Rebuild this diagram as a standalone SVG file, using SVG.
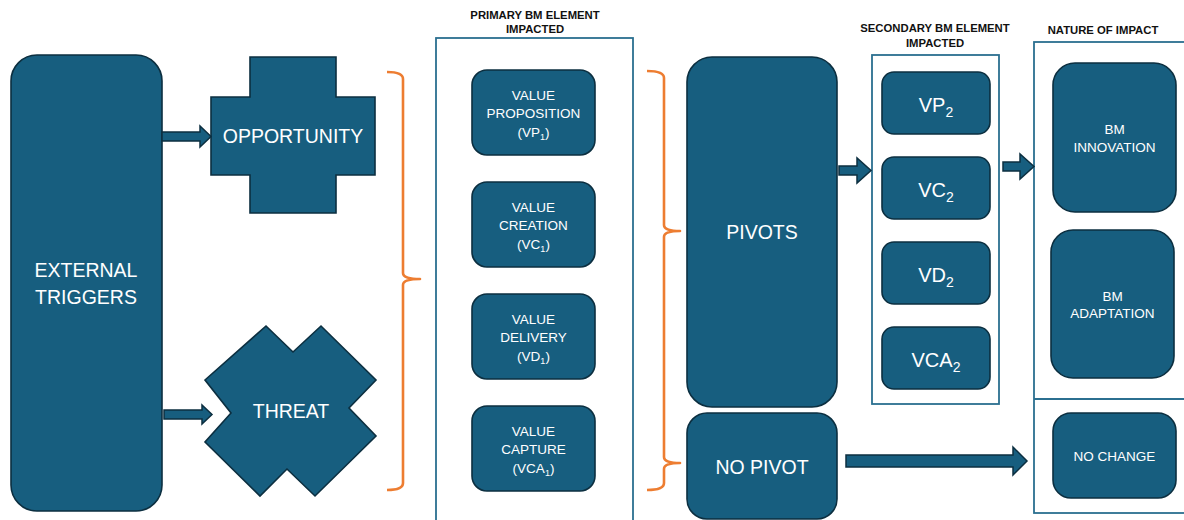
<svg xmlns="http://www.w3.org/2000/svg" width="1184" height="520" viewBox="0 0 1184 520">
<style>
.n{fill:#175e7f;stroke:#0c2f40;stroke-width:1.6}
.ar{fill:#175e7f;stroke:#0c2f40;stroke-width:1.5}
.fr{fill:none;stroke:#2b6f90;stroke-width:1.8}
.br{fill:none;stroke:#ED7D31;stroke-width:2.6;stroke-linejoin:round}
.t{font-family:"Liberation Sans",Arial,sans-serif;fill:#ffffff;text-anchor:middle}
.big{font-size:19.5px}
.sm{font-size:13.5px}
.sec{font-size:20px}
.h{font-family:"Liberation Sans",Arial,sans-serif;font-weight:bold;font-size:11.3px;fill:#111111;text-anchor:middle}
</style>
<rect width="1184" height="520" fill="#ffffff"/>

<g id="frames">
<rect class="fr" x="436" y="38" width="197" height="495"/>
<rect class="fr" x="872" y="55" width="127" height="349"/>
<rect class="fr" x="1034" y="42" width="160" height="471"/>
<line class="fr" x1="1034" y1="399" x2="1190" y2="399"/>
<text class="h" x="535" y="19">PRIMARY BM ELEMENT</text>
<text class="h" x="535" y="33">IMPACTED</text>
<text class="h" x="935" y="32">SECONDARY BM ELEMENT</text>
<text class="h" x="935" y="47">IMPACTED</text>
<text class="h" x="1103" y="34">NATURE OF IMPACT</text>
</g>

<g id="external-triggers">
<rect class="n" x="11" y="55" width="151" height="456" rx="26"/>
<text class="t big" x="86" y="277">EXTERNAL</text>
<text class="t big" x="86" y="304">TRIGGERS</text>
</g>

<g id="opportunity">
<polygon class="n" points="250,57 336,57 336,97 375,97 375,175 336,175 336,213 250,213 250,175 211,175 211,97 250,97"/>
<text class="t big" x="293" y="143">OPPORTUNITY</text>
</g>

<g id="threat">
<polygon class="n" points="266,326 293,352 321,326 376,380 349,408 376,436 315,496 287,469 260,496 205,442 231,413 205,380"/>
<text class="t big" x="291" y="418">THREAT</text>
</g>

<g id="vp1">
<rect class="n" x="472" y="70" width="123" height="85" rx="15"/>
<text class="t sm" x="533.5" y="100">VALUE</text>
<text class="t sm" x="533.5" y="118">PROPOSITION</text>
<text class="t sm" x="533.5" y="137">(VP<tspan font-size="9" dy="3">1</tspan><tspan dy="-3">)</tspan></text>
</g>
<g id="vc1">
<rect class="n" x="472" y="182" width="123" height="85" rx="15"/>
<text class="t sm" x="533.5" y="212">VALUE</text>
<text class="t sm" x="533.5" y="230">CREATION</text>
<text class="t sm" x="533.5" y="249">(VC<tspan font-size="9" dy="3">1</tspan><tspan dy="-3">)</tspan></text>
</g>
<g id="vd1">
<rect class="n" x="472" y="294" width="123" height="85" rx="15"/>
<text class="t sm" x="533.5" y="324">VALUE</text>
<text class="t sm" x="533.5" y="342">DELIVERY</text>
<text class="t sm" x="533.5" y="361">(VD<tspan font-size="9" dy="3">1</tspan><tspan dy="-3">)</tspan></text>
</g>
<g id="vca1">
<rect class="n" x="472" y="406" width="123" height="85" rx="15"/>
<text class="t sm" x="533.5" y="436">VALUE</text>
<text class="t sm" x="533.5" y="454">CAPTURE</text>
<text class="t sm" x="533.5" y="473">(VCA<tspan font-size="9" dy="3">1</tspan><tspan dy="-3">)</tspan></text>
</g>

<g id="pivots">
<rect class="n" x="687" y="57" width="150" height="350" rx="25"/>
<text class="t big" x="762" y="239">PIVOTS</text>
</g>
<g id="no-pivot">
<rect class="n" x="687" y="413" width="150" height="106" rx="20"/>
<text class="t big" x="762" y="474">NO PIVOT</text>
</g>

<g id="vp2">
<rect class="n" x="882" y="72" width="108" height="62" rx="12"/>
<text class="t sec" x="936" y="112">VP<tspan font-size="14" dy="5">2</tspan></text>
</g>
<g id="vc2">
<rect class="n" x="882" y="157" width="108" height="62" rx="12"/>
<text class="t sec" x="936" y="197">VC<tspan font-size="14" dy="5">2</tspan></text>
</g>
<g id="vd2">
<rect class="n" x="882" y="242" width="108" height="62" rx="12"/>
<text class="t sec" x="936" y="282">VD<tspan font-size="14" dy="5">2</tspan></text>
</g>
<g id="vca2">
<rect class="n" x="882" y="327" width="108" height="62" rx="12"/>
<text class="t sec" x="936" y="367">VCA<tspan font-size="14" dy="5">2</tspan></text>
</g>

<g id="bm-innovation">
<rect class="n" x="1053" y="63" width="123" height="149" rx="22"/>
<text class="t sm" x="1114.5" y="134">BM</text>
<text class="t sm" x="1114.5" y="152">INNOVATION</text>
</g>
<g id="bm-adaptation">
<rect class="n" x="1051" y="230" width="123" height="148" rx="22"/>
<text class="t sm" x="1112.5" y="301">BM</text>
<text class="t sm" x="1112.5" y="318">ADAPTATION</text>
</g>
<g id="no-change">
<rect class="n" x="1053" y="413" width="123" height="85" rx="18"/>
<text class="t sm" x="1114.5" y="461">NO CHANGE</text>
</g>

<g id="connectors">
<path class="ar" d="M162,132 H200 V126 L211,136.5 L200,147 V141 H162 Z"/>
<path class="ar" d="M164,410 H202 V405 L212,414.5 L202,424 V419 H164 Z"/>
<path class="ar" d="M839,166 H857 V158 L871,170.5 L857,183 V175 H839 Z"/>
<path class="ar" d="M1003,162 H1020 V154 L1034,166.5 L1020,179 V171 H1003 Z"/>
<path class="ar" d="M846,455 H1013 V447 L1027,461 L1013,475 V467 H846 Z"/>
<path class="br" d="M387,72 Q403,72 403,79 V273 Q403,279 420,279 Q403,279 403,285 V483 Q403,490 387,490"/>
<path class="br" d="M647,71 Q664,71 664,78 V225 Q664,231 680,231 Q664,231 664,237 V457 Q664,463 680,463 Q664,463 664,469 V483 Q664,490 647,490"/>
</g>
</svg>
